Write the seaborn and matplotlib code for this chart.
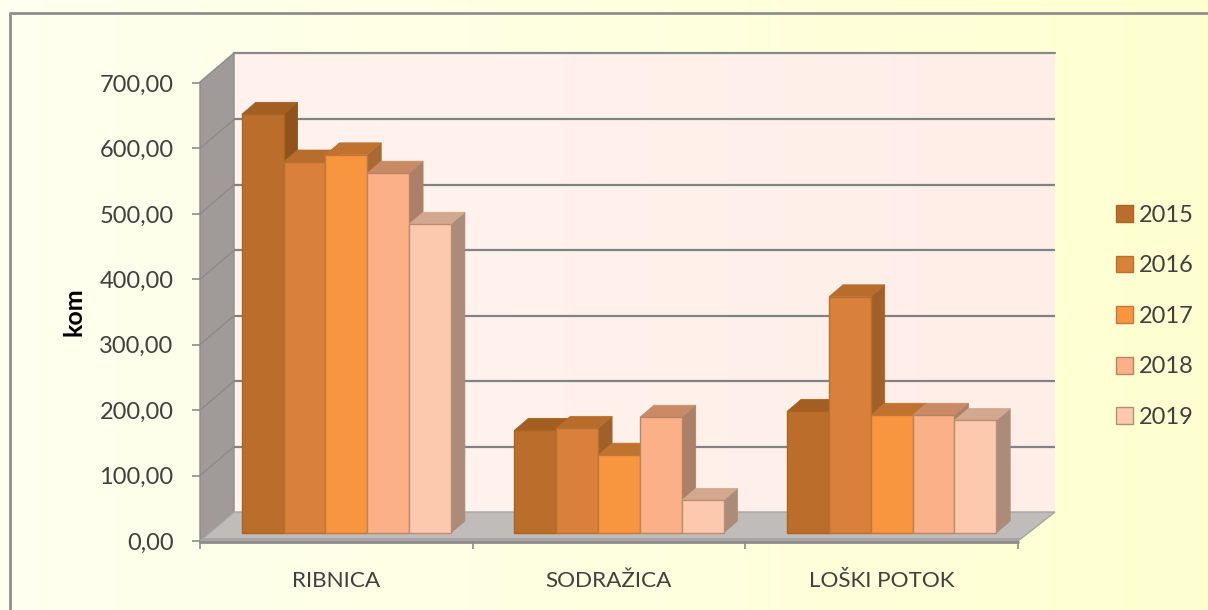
import numpy as np
import pandas as pd
import seaborn as sns
import matplotlib.pyplot as plt
from matplotlib.patches import Polygon
from matplotlib.ticker import FuncFormatter, FixedLocator
from matplotlib.colors import LinearSegmentedColormap
from matplotlib.transforms import Affine2D

municipalities = ["RIBNICA", "SODRAŽICA", "LOŠKI POTOK"]
years = ["2015", "2016", "2017", "2018", "2019"]
v2015 = [640, 157, 186]
v2016 = [567, 160, 361]
v2017 = [578, 119, 180]
v2018 = [550, 177, 180]
v2019 = [472, 50, 172]
y_ticks = [0, 100, 200, 300, 400, 500, 600, 700]

front_colors = ["#bb6e2c", "#d9813a", "#f8963f", "#fbb088", "#fcc9ae"]
top_colors = ["#a35e22", "#b96d2c", "#c0732f", "#c98a66", "#d2a88e"]
side_colors = ["#8f531d", "#a0602a", "#a86a34", "#ab8068", "#ab8c7a"]
edge_colors = ["#a9641f", "#b8702e", "#c4773a", "#b98460", "#b98e74"]

W, H = 1208, 610
sns.set_theme(style="white")
plt.rcParams["font.family"] = ["Lato", "DejaVu Sans"]

df = pd.DataFrame({
    "place": municipalities * 5,
    "year": np.repeat(years, 3),
    "value": v2015 + v2016 + v2017 + v2018 + v2019,
})

fig = plt.figure(figsize=(W / 100, H / 100), dpi=100)

# background, pixel coords
bg = fig.add_axes([0, 0, 1, 1], zorder=0)
bg.axis("off")
cmap = LinearSegmentedColormap.from_list("bg", ["#feffef", "#ffffd0"])
bg.imshow(np.linspace(0, 1, 256).reshape(1, -1), cmap=cmap, extent=[0, W, H, 0], aspect="auto")
bg.plot([10, 10, W], [H, 13, 13], color="#8e8e8e", lw=2)
wall = LinearSegmentedColormap.from_list("wall", ["#fff3ee", "#ffeee8"])
bg.imshow(np.linspace(0, 1, 256).reshape(1, -1), cmap=wall, extent=[234, 1055, 512, 53], aspect="auto")
bg.set_xlim(0, W)
bg.set_ylim(H, 0)
bg.add_patch(Polygon([(200, 82), (234, 53), (234, 512), (200, 541)], fc="#a09b99", ec="#8e8a88", lw=1))
bg.add_patch(Polygon([(200, 541), (234, 512), (1055, 512), (1018, 541)], fc="#c0bcb9", ec="#a8a4a2", lw=1))
bg.add_patch(Polygon([(203.5, 538), (1021.5, 538), (1018, 541), (200, 541)], fc="#a9a5a6", lw=0))
bg.plot([234, 1055], [53, 53], color="#868a8a", lw=1.6)
bg.plot([200, 1018], [542, 542], color="#8c8c8c", lw=2)

# chart, front plane 200..1018 / 541..83
ax = fig.add_axes([200 / W, (H - 541) / H, 818 / W, 458 / H], zorder=1)
ax.patch.set_visible(False)
sns.barplot(data=df, x="place", y="value", hue="year", hue_order=years, order=municipalities,
            palette=front_colors, width=0.767, saturation=1, ax=ax)
ax.set_xlim(-0.5, 2.5)
ax.set_ylim(0, 700)

px_x = 818 / 3
px_y = 458 / 700
bar_tf = ax.transData + Affine2D().translate(10, 8)
back_tf = ax.transData + Affine2D().translate(34, 29)

# gridlines on the back wall and the diagonal ones on the side wall
ax.hlines(y_ticks[1:-1], -0.5, 2.5 + 3 / px_x, color="#7f8383", lw=1.6, transform=back_tf, zorder=1, clip_on=False)
for t in y_ticks[1:-1]:
    ax.plot([-0.5, -0.5 + 34 / px_x], [t, t + 29 / px_y], color="#8e8a88", lw=1, zorder=1, clip_on=False)

# fake 3d, top and side faces from the bar rectangles
depth_x = 14 / px_x
depth_y = 12 / px_y
bars = []
for container, fc, tc, sc, ec in zip(ax.containers, front_colors, top_colors, side_colors, edge_colors):
    for bar in container:
        bars.append((bar, fc, tc, sc, ec))
bars.sort(key=lambda b: b[0].get_x())
for i, (bar, fc, tc, sc, ec) in enumerate(bars):
    x0 = bar.get_x()
    x1 = x0 + bar.get_width()
    h = bar.get_height()
    z = 3 + i * 0.01
    bar.set_transform(bar_tf)
    bar.set_clip_on(False)
    bar.set_edgecolor(ec)
    bar.set_linewidth(1)
    bar.set_zorder(z + 0.002)
    ax.add_patch(Polygon([(x1, 0), (x1 + depth_x, depth_y), (x1 + depth_x, h + depth_y), (x1, h)],
                         fc=sc, ec=sc, lw=0.5, transform=bar_tf, zorder=z, clip_on=False))
    ax.add_patch(Polygon([(x0, h), (x1, h), (x1 + depth_x, h + depth_y), (x0 + depth_x, h + depth_y)],
                         fc=tc, ec=tc, lw=0.5, transform=bar_tf, zorder=z + 0.001, clip_on=False))

sns.despine(ax=ax, left=True, bottom=True)
ax.set_xlabel("")
ax.set_ylabel("kom", fontsize=18, fontweight="bold", color="black")
ax.yaxis.set_label_coords(-115 / 818, 0.5)
ax.yaxis.set_major_locator(FixedLocator(y_ticks))
ax.yaxis.set_major_formatter(FuncFormatter(lambda v, p: f"{v:.2f}".replace(".", ",")))
ax.tick_params(axis="y", left=True, length=6, width=1.2, color="#8c8c8c", labelsize=17, labelcolor="#404040", pad=13)
ax.xaxis.set_minor_locator(FixedLocator([-0.5, 0.5, 1.5, 2.5]))
ax.tick_params(axis="x", which="major", bottom=False, labelsize=16.2, labelcolor="#404040", pad=15.5)
ax.tick_params(axis="x", which="minor", bottom=True, length=6, width=1.2, color="#8c8c8c")

sns.move_legend(ax, "upper left", bbox_to_anchor=(1104 / W, (H - 193) / H), bbox_transform=fig.transFigure,
                title=None, frameon=False, fontsize=17, labelcolor="#404040",
                handlelength=0.72, handleheight=0.72, handletextpad=0.25, labelspacing=1.25, borderpad=0)
for patch, ec in zip(ax.get_legend().get_patches(), edge_colors):
    patch.set_edgecolor(ec)

fig.savefig("out.png", dpi=100)
